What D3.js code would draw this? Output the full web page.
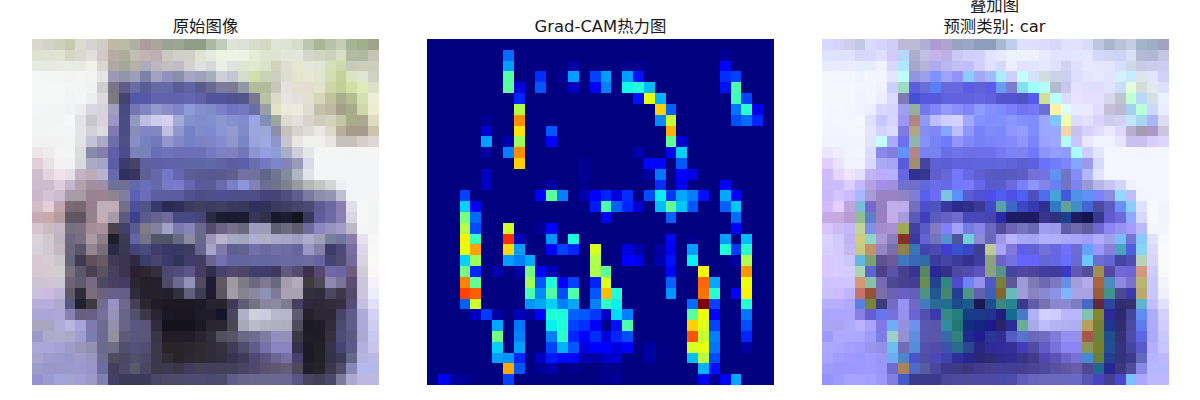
<!DOCTYPE html>
<html>
<head>
<meta charset="utf-8">
<script src="https://cdn.jsdelivr.net/npm/d3@7"></script>
<style>
   html, body { margin: 0; padding: 0; background: #fff; overflow: hidden; }
   text { font-family: "DejaVu Sans", "Noto Sans CJK SC", sans-serif; font-size: 16.4px; fill: #1a1a1a; }
</style>
</head>
<body>
<div class="chart"></div>
<script>
// values, one string per image row
const imageRows = [
   "d8d8cc d4d3cb cdd0ba c4c9b0 dcdbcf d6d4d0 d0cdc4 bdb9a4 bdbaa5 b1aea3 ac9c9c aea49e 98a391 9aa794 8f9c88 8f9c88 a9b9a0 bfcbbc dde3d9 dde0d8 d9dccb d5d9c4 e0e3d9 dfe3d4 d8dccb bcc6ac aab698 b8c2a8 c5cdb2 a5b596 a0b08f a0a28c",
   "dee3d0 dfe3d0 dfe3cf d4d7c4 dad8cf e1dfdb d4c9c6 b7aca3 adae98 c2bfb2 c2b4b6 bcb0b4 cbc8c2 d1cfc9 d2d0c8 dde4d4 e4ebe0 eef2e2 eef3e3 eef2e2 e6ecd5 e0e5d0 dfe4d0 e3e7d5 e5e6e0 d4d7cf d0d4c0 cdd3b9 d9dfc3 b2bba0 b0b8a0 c5c4b2",
   "e8ebe3 e8eae2 e9ebe3 e8ece2 e8ebe0 f0f2ea d9d7d2 b0a8a2 a5a898 b5b3a5 aeabbd bab7c0 c5bfc3 c0bcc4 d5d1cf e0e0df d6d9d9 edeee8 e2e2de dfe5d3 e4e9cd dde3c9 d0d4bd e0dfcf e5e8d2 e5e7da e3e5d5 d6dfb7 cfd9ad c8cbb5 cccdbb cdcdbe",
   "f5f6f6 f5f5f5 f4f5f5 f1f2f1 f4f5f4 f3f4f2 e4e5e4 9d98b5 9195ad 9d9fb8 7f80a5 a0a1c5 9392bc 8a8ea8 a4a6c4 a0a0b9 a7adbd cbd0d6 c5c5d3 d4dccb cfdeaa cbd4b2 cbcfbf dfddcd e3e5cf e6e8d2 e1e4ce d4deb0 c6d29c dde4bd e0e4d3 cfd2c2",
   "f5f6f6 f5f6f6 f5f6f6 f3f4f4 f4f5f5 f1f2f2 cdcecd 7a7687 5d5d85 6a6da3 5a5d93 6569a7 6469a8 5a5c97 6163a2 5a5a8b 686a90 7b7c9f 7c7a94 9099a4 b3bd9b b3bb9c c6c8bd e5e2dd e2ded4 e2ddd0 e2e4cc ccd6a7 c3cf95 d3dea5 e0eab8 dde0c8",
   "f5f6f6 f5f6f6 f5f6f6 f1f2f3 f3f6f6 eeedf0 dbd9dc 7c7a7d 43436f 5558a8 5558a8 6063ad 6062ae 5f62ac 6366b0 5f61a7 52539c 52529d 52518f 545488 78798f bcc0a5 dbdcc5 e8e3e2 e6dddd e2dfcf d8d6b8 c0c39d a8ad8a b8be92 d5e0b2 ecefd4",
   "f3f5f6 f3f5f5 f3f5f5 f1f2f3 ecedef dad7df d6d3db a0a0bd 4a4a83 7378b5 8085c4 9499d0 8a8ec8 7f85c8 8f9ad8 858fd0 7f8cca 7a80c7 7073bf 7478c0 696ea6 98a0a5 dfe2c5 eaeadc ebebe0 e2dbd4 c6bfa9 bfb8a2 a49f8c a9ac8a ced7a5 ebecd0",
   "f3f5f5 f3f5f5 f3f5f5 f6f8f8 e1e1e8 c9c6cc d8d3da 9a97c4 4b4b83 8f9bc0 bebde2 cecdee d4d2ef a2aad8 8492cc 7f8fce 7f90cc 8c96d0 8490d0 7e8cd0 9ca6e6 7f8fba a0a59a dddcd0 e5e0dc dad2cc cfcdba d4d2be c3c5a5 a8ac8a aba890 dfdcc2",
   "f3f4f4 f3f4f4 f4f5f5 f4f5f6 e4e4ea d2d1d8 dbdbe0 8279b0 4c4c85 868eb8 8285c5 8186c4 bfbfe2 9097cc 7781c6 7f8cc8 7d89d0 8d96d4 959bce 7f8cc8 9ba6dc 9aa8d8 8e8da8 c8c1bd dad0ce dfdcd5 ebe8e3 dcd9c8 b8ae9a a49c84 a89a90 cdc4ab",
   "f2f2f2 f1f1ef f1f2f1 f2f3f3 e3e3e5 c3c3d5 aaaac8 6e6eaa 4f5088 8790c4 7683c0 6f79bc 9295ce 8388c6 7680c4 7b83c4 7f86c8 8589cf 8f96cc 7a85c6 9aa2dc 9fa8e4 8c96c8 c7c4cc e9e6e6 f1f1ef f1f1f0 e7e6e3 c9c0bc c8c1bc d9cccc dcd7d5",
   "ede5e7 efedec f3f3f3 f3f4f4 dcdcdf 8a8aac 8280ab 6060a8 4c4c8c 7a82bc 7a82bc 6a6eb4 7074b8 6e70b4 6d6fb8 6e70b8 747ac0 7e82c4 8082c0 7078ba 8d94d2 959ee0 8e9cd8 a9aec8 d0cddb e4e6e8 f4f6f5 f4f5f5 f4f5f5 f3f4f4 f4f5f5 f5f5f5",
   "dfcfd6 e9e3e5 f2f2f2 f2f2f3 d8d8dd acaac2 a4a4c6 5a5ca8 3b3b6c 444469 5e60a0 5c5fa0 5f62a8 5e62a8 5f65a5 5e66a8 6068a8 6062a4 5a5ea0 5d60a8 6870b0 7378c0 7b85cb 8184b8 9c9abc d9d9e8 f5f7f7 f4f5f6 f4f5f6 f4f5f6 f4f5f6 f4f5f6",
   "d0bdcb e3d6df f0e4ea e5e0e6 c2b4c3 bbacb8 b7b2d0 6768ad 31315f 36365c 5f5f98 6568a8 7477c8 6567b0 5d5e98 5a5a90 575893 5a5a90 5f5f90 7370a5 7272a0 60658a 6f7694 838c9c b0b6c2 e2e3ea f4f5f6 f4f5f6 f4f5f6 f4f5f6 f4f5f6 f4f5f6",
   "cbbccd ccbdcb dccfda c5b8ce b3a2ae a38f9f a08fa8 6f7198 6f6f98 6268a8 696fb8 6468a8 7479c8 7a7ad0 6568b0 5a5a9a 5a5c98 6a69ac 7a80c8 8d96dc 8282b8 6a6e90 70748e 7f838f 969ca0 b5b7b5 c4c6c2 d3d4d4 efeff1 f4f5f6 f4f5f6 f4f5f6",
   "c8b8cc d4c4d8 ccbccd a89ca8 a89ca3 9a8391 9a8392 8d8490 7f7ea0 5a60b8 6b6cba 5b5ea0 5a5d9e 5a5c9e 50528f 4c4d85 4e4f8d 4c4f90 4c4f8c 4c4f8a 4f4f85 44447a 444478 4e4e80 5e5f90 7a7aa0 8d8dac 9494ae bebed0 f3f4f6 f4f5f6 f5f5f7",
   "d3bbc7 e5cfd4 c0a4ae 7a6a72 77686f 977f8d c0aeb8 c1acb8 70708a 4d4f9c 4f5488 38386a 2a2a55 2e2e58 3b3b60 3f3f60 3b3b60 3f3f5f 3a3a5e 38385d 30305f 30305a 3a3a60 3e3e62 44446c 4a4a70 5c5c90 6c68a0 8a7fb0 e0e0ec f6f7f6 f2f3f3",
   "c8aab4 c8aaa8 b79ca0 605763 5e5560 977f8e c3adb6 a89ba8 5a5a85 40408a 5a5a8c 66628f 706a98 484885 484885 45457a 2a2a40 1c1c30 1c1a2e 1c1a2e 38345a 30304a 18182a 1e1c2c 14141f 38385c 5f5c9e 6e6aa8 8a80b5 d8d8e4 f7f8f4 f2f3f3",
   "d8c4cc cbbcc2 c5b8c4 776f82 7f7082 a48c98 a8919b 4b4347 40406c 5a5a90 7f7c88 8080a0 a0a2c8 7a7ab0 8585b8 6c6a8c 534c6c 6c6285 77728a 68687f 9f9cc0 9c9bb8 5f5d72 6c6a7c 5f5c6c 6c6a9e 8f85c0 9494bf a49cc8 bcb8cc f5f5f6 f4f4f6",
   "dbd3da d0c9cd beb5bf 706880 786f80 ac9aa4 8b7e8a 1e1e28 3a3a52 6464a4 747488 55556a 4f5568 686a84 8a8aa4 6a6888 a094b8 b8b4cc a8a8c4 a4a6c0 afb0d0 afb0c8 a8a8cb a8a6c8 a09ec0 b0accb 9f9fb8 7a7e9c 7474a0 8a7ea8 e4e0ec f7f7f8",
   "d8d0da d3c9d2 c4b8c2 6a667c 5a5468 948690 7a6e7c 2a2a48 3a3850 44447c 4a4a7c 3f3d6e 383866 393860 3e3c60 66648c a8a4c8 8078a8 5e5e90 626290 7270a8 6a689f 7070a4 6e6c9e 66649a 9a96c8 8580a6 3f3d68 4e4a78 786ca0 dcd8e8 f8f8f6",
   "d8c8d4 d6ccd4 cbc6ca 64647a 3c3a50 5f505c 6a5a64 3f3a56 3a3450 2f2840 3c3c6c 454570 3b3b68 323258 3f3c6c 453d60 6c6490 7470b0 6464a0 6464a0 6468a0 6468a0 6668a0 6a6aa4 6868a0 6c6ca0 6464a0 444474 4e4c74 746c98 d8d4e4 f9f9f6",
   "d8c8d0 d6ccd0 d3cdcf 78707f 5b566c 4c3f52 5a5260 45405c 3a3450 28202f 2c2530 332f40 4c4870 504c78 5d5488 453d60 332d4c 46426c 50486f 4c4568 423e6c 3f3c68 3c3860 605a80 544c6c 3c3050 544870 7068a4 6f64a4 6c5c80 d0ccd8 f9f8f6",
   "cec3d0 cfc4d2 cdc6d4 6c6476 5f5a6c 776a82 4c4860 48405e 433c60 2a2530 242028 24202c 4e4a68 6e6890 9490b8 4f4a60 1e1a30 5f5864 9e9aa4 7c7a84 6c6880 7e7890 686880 a49ca8 b4aabb 3f3c40 4c4858 8f88b0 78749a 5a4f70 cac6d8 f5f3f9",
   "c8c0de cabce0 bfb5d6 5f5a68 2e2c38 7a6e78 6c6280 6a6090 645f88 2f2c40 24202c 24202c 221f2d 30303e 60607a 403d50 1e1a30 5a5460 a09ca8 88848f 8a88a0 8e92b4 7e7a98 a8a2b4 a8a2b0 32303c 302c3c 4c4860 3c3848 54486c c9c6de eeeefb",
   "b8aedc b8aedd aea8d0 5a5880 22202c 3d3a44 746c90 9894c4 70688f 44405a 2a262c 1f1c28 1b1824 1b1824 1b1824 1c1a28 262232 252230 3e3a58 605c74 74727c 8a869e 8c8aa0 7f7c90 463e60 2e283c 2c2a38 302c3c 342e40 564c78 c4bee0 e2dffa",
   "aca6d8 aca5d8 ada6d6 8880b0 65607f 676084 76709a 9692b8 686488 52506c 3c3848 282430 1a1824 181622 1a1622 1e1c28 201c2c 14142a 4a4660 b0b0c4 d0d0dc cccce0 b8b6d0 b8b6cc 5e5a70 24202e 2c2834 2c2838 484468 605c8a aeaad8 d4d0f4",
   "aaa6c0 a8a5be b0aad8 bab4e0 a8a4d8 8078b0 6f6a90 9490ac 6a6488 5a5680 5a5478 302c3e 14121c 14121c 14121c 1a1824 282430 2a2632 4a4852 a8a8b8 bcbcc8 b4b4c0 b0b0c2 aeaec0 4f4c5c 1c1a26 1e1c26 302c3c 4c4870 605c8a aeaad8 d0ccf0",
   "9e9ac8 aeaacc b0aacc aba8cc a09cd0 7c7cb0 6c6a90 94909f 5e5a78 58567c 5a5678 383644 201c28 201c28 201c28 282430 302e38 52505e 585468 6a6888 706c90 7f7ca4 9290c0 9490b8 3c3846 1e1c26 1e1c26 343040 4c4c78 5c5880 aba8d4 c8c8f0",
   "aba8d8 aaa6dc a5a0d8 9f9cc8 9a96ba 9490b4 6c6a8c 706c84 524e70 54507a 504c74 3c3848 2a2428 282428 2a262c 2e2a30 302c38 353040 403c58 504c70 625c88 7870a8 8c84c0 8c84c0 34304a 1c1a26 221e28 36324a 464470 5c5888 b4b0dc c8c4ec",
   "a8a4cc a09cd0 9c9ace 9898cc a09ccc 9a96c0 706c90 4f4c60 4a4664 50506c 4c4868 3c3848 302c34 262428 2a2830 2e2a34 2e2c38 302e40 383450 403c58 4f4870 5c5480 6c6494 7670a4 48406a 1c1a26 22202a 343248 3c3a58 646888 b4b4e0 bcb8e4",
   "9c9ccc 9a98c8 9a98c8 9c9acc 9e9ad0 9a96cc 6c6ca0 443f5c 4c4866 565a6c 4a4660 3c3848 3c3a50 3a3648 403c5a 444058 423e5c 423e5c 44405c 4a4464 4f486c 5a5070 605870 665e78 4f485c 221f2c 26222c 3c384c 504c68 8888b4 b4b8ec b4b8e8",
   "9492d0 9a9ad4 a4a4dc a4a4d4 a4a0d4 9c98c8 8080b0 443f64 3c3a58 3c3a58 3c3a58 4a4668 4e4a68 4e4a68 4e4a70 4e4a70 4a4a70 4c4c70 605c88 68648c 68688c 68688c 6a6892 6a6892 585484 484460 443f58 484868 7c7c98 aca8d0 bcb8e0 bcb8e0"
];

// cam value in percent, by row then column; columns left out are 0
const heatRows = [
   {},
   {7:23, 27:2},
   {7:28, 13:3, 18:1, 19:1, 27:12},
   {7:45, 10:17, 12:2, 13:28, 15:19, 16:28, 18:28, 19:14, 27:17, 28:19},
   {7:46, 8:8, 10:21, 13:6, 15:10, 16:25, 18:37, 19:39, 20:31, 27:14, 28:44},
   {8:16, 19:14, 20:63, 21:30, 28:42, 29:19},
   {8:57, 21:69, 22:22, 28:24, 29:40, 30:9},
   {5:2, 8:76, 21:26, 22:59, 28:20, 29:23, 30:16},
   {5:7, 8:67, 11:21, 22:72},
   {5:28, 7:4, 8:54, 11:12, 22:47, 23:7},
   {5:3, 7:25, 8:76, 19:4, 22:12, 23:33},
   {8:69, 14:2, 20:13, 21:13, 23:21},
   {5:6, 14:2, 20:3, 21:24, 23:12, 24:9},
   {5:6, 11:3, 14:1, 21:17, 23:10, 27:12},
   {3:19, 10:12, 11:46, 12:25, 14:4, 15:12, 16:16, 17:8, 18:17, 20:20, 21:36, 22:18, 23:29, 24:25, 25:14, 27:29, 28:12},
   {3:33, 4:10, 15:15, 16:44, 17:22, 18:16, 19:7, 21:31, 22:47, 23:32, 24:21, 27:22, 28:32},
   {3:50, 4:23, 16:11, 22:22, 28:23},
   {3:57, 4:20, 7:60, 10:2, 11:12, 28:12},
   {3:65, 4:42, 7:86, 8:5, 11:27, 13:38, 22:13, 24:1, 27:28, 29:31},
   {3:63, 4:74, 7:68, 8:28, 11:12, 12:19, 13:16, 15:61, 18:8, 19:4, 21:3, 22:10, 24:28, 27:39, 28:18, 29:40},
   {3:33, 4:54, 7:28, 8:25, 9:29, 15:56, 18:12, 19:9, 21:4, 22:14, 24:36, 28:3, 29:56},
   {3:49, 4:16, 6:4, 8:3, 9:49, 10:12, 11:5, 15:56, 16:46, 22:12, 25:65, 29:75},
   {3:77, 4:47, 9:54, 10:21, 11:39, 12:10, 13:19, 15:16, 16:62, 22:22, 25:80, 26:29, 29:64},
   {3:84, 4:81, 9:44, 10:26, 11:45, 12:20, 13:44, 15:21, 16:71, 17:39, 22:27, 25:79, 26:40, 28:12, 29:65},
   {3:22, 4:60, 9:27, 10:29, 11:33, 12:25, 13:29, 15:25, 16:41, 17:36, 24:23, 25:100, 26:19, 29:39},
   {4:6, 5:18, 6:3, 8:5, 9:3, 10:12, 11:39, 12:38, 13:22, 14:21, 15:18, 16:6, 17:34, 18:25, 24:46, 25:64, 26:12, 29:24},
   {6:29, 8:24, 11:36, 12:39, 13:19, 14:17, 15:12, 16:1, 17:14, 18:44, 24:69, 25:62, 26:19, 29:20},
   {6:49, 8:25, 11:25, 12:40, 13:16, 14:11, 15:17, 16:8, 17:16, 18:20, 24:82, 25:59, 26:25, 29:16},
   {6:33, 8:28, 11:19, 12:30, 13:21, 14:8, 15:12, 16:12, 17:8, 18:12, 20:3, 24:61, 25:63, 26:24, 29:3},
   {6:28, 7:27, 8:16, 10:6, 11:15, 12:13, 13:13, 14:4, 15:3, 16:6, 17:7, 20:3, 24:31, 25:57, 26:20},
   {7:73, 8:21, 10:2, 11:4, 13:1, 16:1, 17:1, 25:30, 26:14},
   {1:12, 2:3, 3:2, 7:19, 16:1, 17:2, 25:10, 26:2, 27:12, 28:29}
];

const panelTitles = ["原始图像", "Grad-CAM热力图"];
const overlayTitles = ["叠加图", "预测类别: car"];

// setup chart
const width = 1200;
const height = 400;
const panelLeft = [32, 427, 822];
const panelWidth = 347;
const panelHeight = 346;
const panelTop = 39;
const overlayWeight = 0.4;

const svg = d3.select(".chart")
   .append("svg")
   .attr("width", width)
   .attr("height", height)
   .style("display", "block");

const cols = d3.range(32);
const xScale = d3.scaleBand().domain(cols).range([0, panelWidth]);
const yScale = d3.scaleBand().domain(cols).range([0, panelHeight]);

// jet colormap, same breakpoints as matplotlib
const jetR = d3.scaleLinear().domain([0, 0.35, 0.66, 0.89, 1]).range([0, 0, 255, 255, 128]);
const jetG = d3.scaleLinear().domain([0, 0.125, 0.375, 0.64, 0.91, 1]).range([0, 0, 255, 255, 0, 0]);
const jetB = d3.scaleLinear().domain([0, 0.11, 0.34, 0.65, 1]).range([128, 255, 255, 0, 0]);
const jet = (v) => d3.rgb(jetR(v), jetG(v), jetB(v));

const cells = [];
imageRows.forEach((line, r) => {
   line.split(" ").forEach((hex, c) => {
      cells.push({ r, c, image: d3.rgb("#" + hex), heat: jet((heatRows[r][c] || 0) / 100) });
   });
});

// overlay is the photo plus a weighted heat map, clipped at white
const blend = (d) => d3.rgb(
   Math.min(255, d.image.r + overlayWeight * d.heat.r),
   Math.min(255, d.image.g + overlayWeight * d.heat.g),
   Math.min(255, d.image.b + overlayWeight * d.heat.b)
);

const fills = [(d) => d.image, (d) => d.heat, blend];

fills.forEach((fill, i) => {
   svg.append("g")
      .attr("transform", `translate(${panelLeft[i]}, ${panelTop})`)
      .attr("shape-rendering", "crispEdges")
      .selectAll("rect")
      .data(cells)
      .enter()
      .append("rect")
      .attr("x", (d) => xScale(d.c))
      .attr("y", (d) => yScale(d.r))
      .attr("width", xScale.bandwidth())
      .attr("height", yScale.bandwidth())
      .attr("fill", (d) => fill(d).formatRgb());
});

// titles
panelTitles.forEach((t, i) => {
   svg.append("text")
      .attr("x", panelLeft[i] + panelWidth / 2)
      .attr("y", 32)
      .attr("text-anchor", "middle")
      .text(t);
});

overlayTitles.forEach((t, i) => {
   svg.append("text")
      .attr("x", panelLeft[2] + panelWidth / 2 - 1)
      .attr("y", 11 + i * 21)
      .attr("text-anchor", "middle")
      .text(t);
});
</script>
</body>
</html>
